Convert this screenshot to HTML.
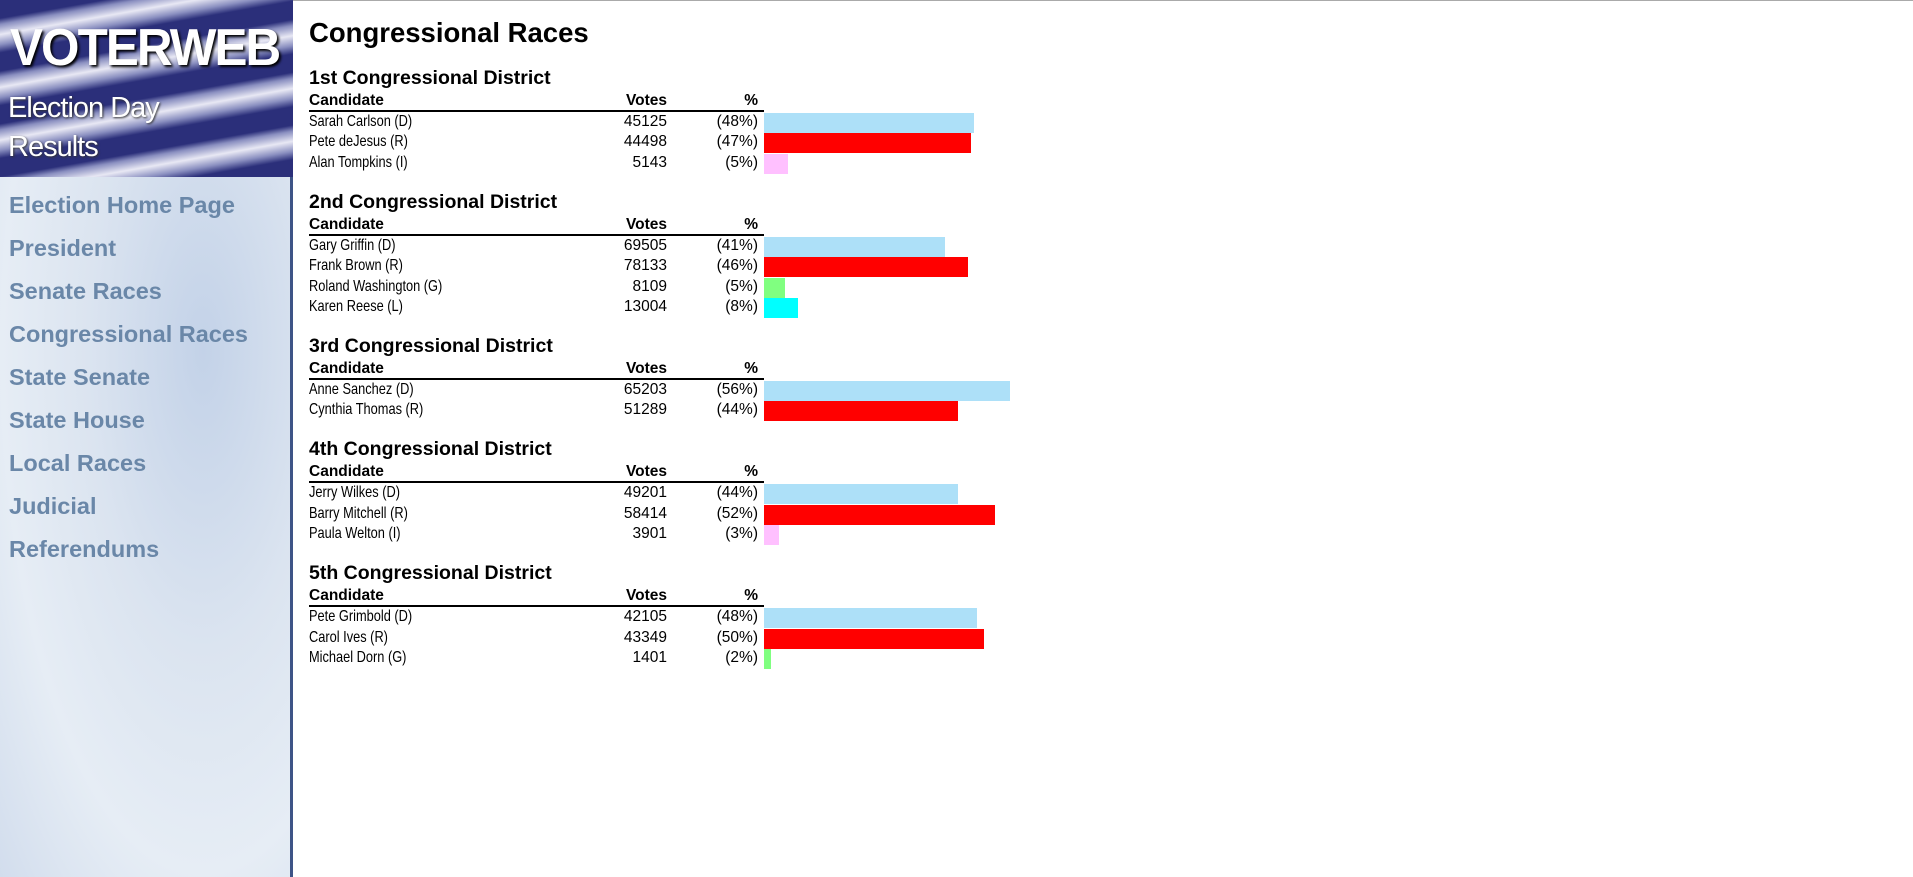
<!DOCTYPE html>
<html><head><meta charset="utf-8">
<style>
body{margin:0;width:1913px;height:877px;overflow:hidden;background:#fff;font-family:"Liberation Sans",Arial,sans-serif;position:relative}
#topline{position:absolute;left:0;top:0;width:1913px;height:1px;background:#aaa}
#side{position:absolute;left:0;top:0;width:290px;height:877px;background:radial-gradient(ellipse at 70% 40%,#c3d2e8 0%,#dbe4f0 40%,#e6edf5 70%,#d2dded 100%);border-right:3px solid #3e5487}
#banner{position:absolute;left:0;top:0;width:293px;height:177px;overflow:hidden;background:repeating-linear-gradient(170deg,#2b2f7a 0 18px,#8a8fc0 24px,#e8e8f4 34px,#8a8fc0 44px,#2b2f7a 52px)}
#banner .v{position:absolute;left:10px;top:18px;font:bold 52px "Liberation Sans",sans-serif;color:#fff;letter-spacing:-2px;transform:scaleX(0.95);transform-origin:left;text-shadow:2px 2px 3px #000}
#banner .e{position:absolute;left:8px;color:#fff;font-size:29px;text-shadow:1px 1px 2px #333;letter-spacing:-1px}
.nav{position:absolute;left:9px;font-weight:bold;font-size:23.5px;color:#6a87a8}
.abs{position:absolute;white-space:nowrap}
</style></head><body>
<div id="topline"></div>
<div id="side"></div>
<div id="banner">
<div class="v">VOTERWEB</div>
<div class="e" style="top:92px">Election Day</div>
<div class="e" style="top:131px">Results</div>
</div>
<div class="nav" style="top:192px">Election Home Page</div>
<div class="nav" style="top:235px">President</div>
<div class="nav" style="top:278px">Senate Races</div>
<div class="nav" style="top:321px">Congressional Races</div>
<div class="nav" style="top:364px">State Senate</div>
<div class="nav" style="top:407px">State House</div>
<div class="nav" style="top:450px">Local Races</div>
<div class="nav" style="top:493px">Judicial</div>
<div class="nav" style="top:536px">Referendums</div>
<div class="abs" style="left:309px;top:17px;font-size:27.5px;font-weight:bold">Congressional Races</div>
<div id="content"></div>
<script>
const districts=["1st Congressional District","2nd Congressional District","3rd Congressional District","4th Congressional District","5th Congressional District"];
const candidates=[["Sarah Carlson (D)","Pete deJesus (R)","Alan Tompkins (I)"],["Gary Griffin (D)","Frank Brown (R)","Roland Washington (G)","Karen Reese (L)"],["Anne Sanchez (D)","Cynthia Thomas (R)"],["Jerry Wilkes (D)","Barry Mitchell (R)","Paula Welton (I)"],["Pete Grimbold (D)","Carol Ives (R)","Michael Dorn (G)"]];
const votes=[[45125,44498,5143],[69505,78133,8109,13004],[65203,51289],[49201,58414,3901],[42105,43349,1401]];
const parties=[["D","R","I"],["D","R","G","L"],["D","R"],["D","R","I"],["D","R","G"]];
const partyColors={D:"#ade0f8",R:"#ff0000",I:"#ffc0ff",G:"#80ff80",L:"#00ffff"};
const c=document.getElementById('content');
function add(html,style,name){const d=document.createElement('div');d.className='abs';d.textContent=html;d.setAttribute('style',style);


c.appendChild(d);return d;}
const barX=764,pxPerPct=4.4;
let y=79;
districts.forEach((dn,di)=>{
  add(dn,`left:309px;top:${y-12}px;font-size:19.5px;font-weight:bold`,'district-heading');
  add('Candidate',`left:309px;top:${y+13}px;font-size:15.5px;font-weight:bold`,'candidate-header');
  add('Votes',`left:567px;width:100px;text-align:right;top:${y+13}px;font-size:15.5px;font-weight:bold`,'votes-header');
  add('%',`left:708px;width:50px;text-align:right;top:${y+13}px;font-size:15.5px;font-weight:bold`,'pct-header');
  add('',`left:309px;width:455px;height:2px;background:#000;top:${y+31}px`,'header-rule');
  const total=votes[di].reduce((a,b)=>a+b,0);
  candidates[di].forEach((cn,i)=>{
    const cy=y+44+i*20.4;
    const pct=Math.round(votes[di][i]/total*100);
    add(cn,`left:309px;top:${cy-10}px;font-size:16px;transform:scaleX(0.8);transform-origin:left`,'candidate-name');
    add(String(votes[di][i]),`left:567px;width:100px;text-align:right;top:${cy-10}px;font-size:15.5px`,'vote-count');
    add('('+pct+'%)',`left:678px;width:80px;text-align:right;top:${cy-10}px;font-size:15.5px`,'vote-percent');
    add('',`left:${barX}px;top:${cy-10}px;height:20px;width:${(votes[di][i]/total*100*pxPerPct).toFixed(1)}px;background:${partyColors[parties[di][i]]}`,'vote-bar');
  });
  y=y+44+(candidates[di].length-1)*20.4+39;
});
</script>
</body></html>
